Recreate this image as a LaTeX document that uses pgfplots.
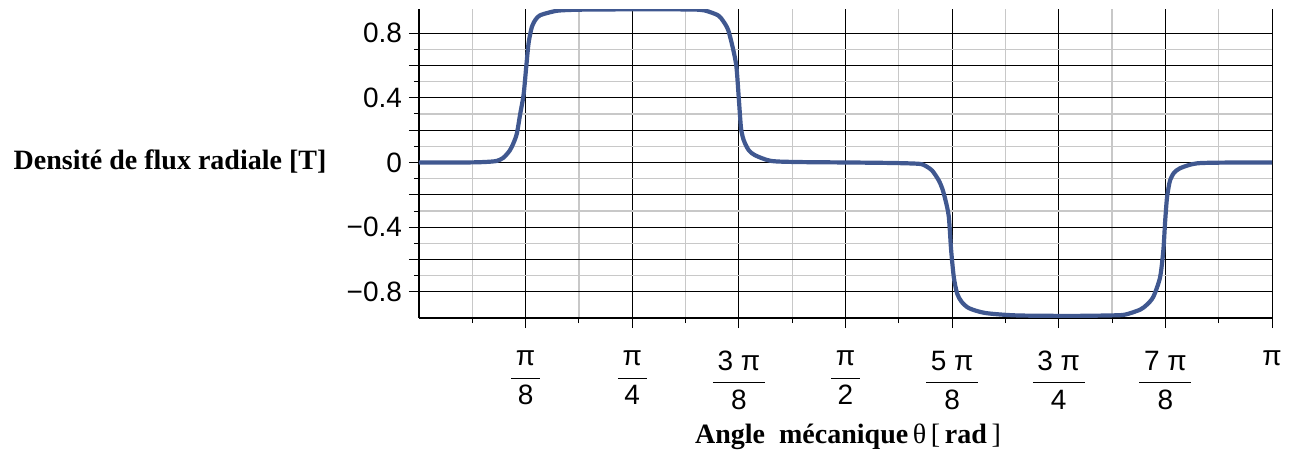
\documentclass[border=0pt]{standalone}
\usepackage{pgfplots}
\pgfplotsset{compat=1.18}
\usepackage{fontspec}
\setmainfont{Liberation Serif}
\newfontfamily\tickfont{Liberation Sans}
\definecolor{curve}{RGB}{64,88,144}
\definecolor{mgrid}{RGB}{200,200,200}
\newcommand\fr[2]{$\displaystyle\frac{\mbox{\,#1\,}}{\mbox{#2}}$}
\begin{document}
\begin{tikzpicture}
\useasboundingbox (-209.5bp,-67.5bp) rectangle (437.5bp,159bp);
\begin{axis}[
  at={(0,0)}, anchor=south west,
  width=426.5bp, height=154.5bp, scale only axis,
  xmin=0, xmax=3.14159, ymin=-0.961, ymax=0.949,
  axis x line*=bottom, axis y line*=left,
  axis line style={black, line width=0.6bp, -},
  xtick={0.392699,0.785398,1.178097,1.570796,1.963495,2.356194,2.748894,3.141593},
  xticklabels={\fr{π}{8},\fr{π}{4},\fr{3 π}{8},\fr{π}{2},\fr{5 π}{8},\fr{3 π}{4},\fr{7 π}{8},π},
  minor xtick={0.19635,0.589049,0.981748,1.374447,1.767146,2.159845,2.552544,2.945243},
  ytick={-0.8,-0.6,-0.4,-0.2,0,0.2,0.4,0.6,0.8},
  yticklabels={−0.8,,−0.4,,0,,0.4,,0.8},
  minor y tick num=1,
  grid=both,
  major grid style={black, line width=0.5bp},
  minor grid style={mgrid, line width=0.6bp},
  tick align=outside, major tick length=5bp, minor tick length=2.5bp,
  tick style={black, line width=0.5bp},
  ticklabel style={font=\tickfont\fontsize{14bp}{16bp}\selectfont},
  xticklabel style={yshift=-8bp},
  xlabel={\textbf{Angle\ \ mécanique}\,θ\,[\,\textbf{rad}\,]},
  xlabel style={font=\fontsize{14bp}{16bp}\selectfont, at={(axis description cs:0.503,-0.385)}, anchor=center},
  ylabel={\textbf{Densité de flux radiale [T]}},
  ylabel style={font=\fontsize{14bp}{16bp}\selectfont, rotate=-90, at={(axis description cs:-0.2919,0.505)}, anchor=center},
]
\addplot[curve, line width=2.1bp, line join=round, smooth, tension=0.45] coordinates {
(0,0) (0.10,0) (0.20,0.001) (0.25,0.004) (0.2864,0.01) (0.3112,0.03) (0.3346,0.075) (0.3480,0.12) (0.3605,0.18) (0.3727,0.30) (0.3853,0.42) (0.3949,0.59) (0.4038,0.74) (0.4160,0.84) (0.4300,0.885) (0.4457,0.91) (0.4853,0.93) (0.5186,0.94) (0.60,0.945) (0.80,0.947) (1.00,0.946)
(1.0522,0.94) (1.1014,0.91) (1.1200,0.875) (1.1385,0.82) (1.1570,0.70) (1.1692,0.59) (1.1781,0.39) (1.1855,0.22) (1.1920,0.16) (1.2003,0.12) (1.2150,0.075) (1.2374,0.045) (1.2966,0.01) (1.40,0.003) (1.60,0.0) (1.75,-0.003)
(1.8413,-0.008) (1.8646,-0.02) (1.8900,-0.05) (1.9142,-0.11) (1.9270,-0.16) (1.9387,-0.23) (1.9513,-0.335) (1.9598,-0.54) (1.9698,-0.71) (1.9820,-0.81) (1.9980,-0.86) (2.0254,-0.90) (2.0857,-0.93) (2.20,-0.945) (2.40,-0.948) (2.55,-0.945)
(2.6007,-0.94) (2.6552,-0.91) (2.6800,-0.88) (2.7045,-0.83) (2.7293,-0.71) (2.7415,-0.54) (2.7478,-0.37) (2.7541,-0.23) (2.7600,-0.16) (2.7663,-0.11) (2.7800,-0.065) (2.8033,-0.035) (2.8652,-0.005) (3.0,0) (3.14159,0)
};
\end{axis}
\end{tikzpicture}
\end{document}
